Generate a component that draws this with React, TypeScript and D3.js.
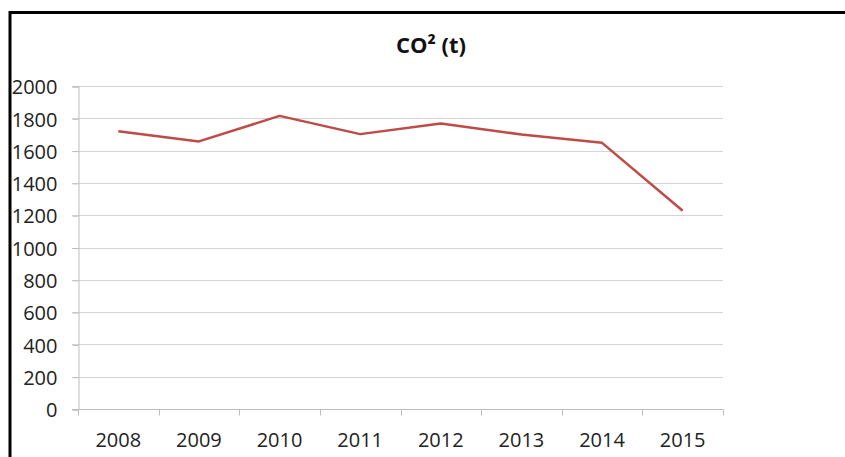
import React, { useEffect, useRef } from 'react';
import * as d3 from 'd3';

const years = ['2008', '2009', '2010', '2011', '2012', '2013', '2014', '2015'];
const co2 = [1720, 1657, 1815, 1702, 1768, 1700, 1648, 1228];
const yTicks = [0, 200, 400, 600, 800, 1000, 1200, 1400, 1600, 1800, 2000];

const W = 845;
const H = 457;

const App = () => {
  const chartRef = useRef<SVGSVGElement>(null);

  useEffect(() => {
    const svg = d3.select(chartRef.current);
    svg.selectAll('*').remove();

    const font = "'Open Sans', 'Noto Sans', sans-serif";
    const left = 78;
    const right = 723;
    const top = 86;
    const bottom = 409;

    // frame (top and left edges only, the rest is cropped)
    svg.append('line')
      .attr('x1', 9).attr('x2', W).attr('y1', 12.5).attr('y2', 12.5)
      .attr('stroke', '#000').attr('stroke-width', 3);
    svg.append('line')
      .attr('x1', 10).attr('x2', 10).attr('y1', 11).attr('y2', H)
      .attr('stroke', '#000').attr('stroke-width', 3);

    svg.append('text')
      .attr('x', 431).attr('y', 53)
      .attr('text-anchor', 'middle')
      .attr('font-family', font)
      .attr('font-weight', 'bold')
      .attr('font-size', 22)
      .attr('fill', '#111')
      .text('CO² (t)');

    const x = d3.scaleBand().domain(years).range([left, right]);
    const y = d3.scaleLinear().domain([0, 2000]).range([bottom, top]);

    // gridlines
    svg.append('g')
      .selectAll('line')
      .data(yTicks.filter(d => d > 0))
      .enter().append('line')
      .attr('x1', left - 6).attr('x2', right)
      .attr('y1', d => Math.round(y(d)) + 0.5)
      .attr('y2', d => Math.round(y(d)) + 0.5)
      .attr('stroke', '#d4d4d4').attr('stroke-width', 1);

    // y axis
    const yAxis = svg.append('g')
      .attr('transform', `translate(${left + 0.5},0.5)`)
      .call(d3.axisLeft(y).tickValues(yTicks).tickFormat(d3.format('d')).tickSize(6).tickPadding(15));
    yAxis.selectAll('.domain').attr('stroke', '#bdbdbd');
    yAxis.selectAll('.tick line').attr('stroke', '#bdbdbd');
    yAxis.selectAll('.tick text')
      .attr('font-family', font).attr('font-size', 20).attr('fill', '#222')
      .attr('dy', '0.36em');

    // x axis
    const xg = svg.append('g').attr('transform', `translate(0,${Math.round(bottom) + 0.5})`);
    xg.append('line')
      .attr('x1', left - 6).attr('x2', right)
      .attr('stroke', '#bdbdbd');
    const bounds = years.map(d => x(d) as number).concat([right]);
    xg.selectAll('.xt')
      .data(bounds)
      .enter().append('line')
      .attr('class', 'xt')
      .attr('x1', d => Math.round(d) + 0.5).attr('x2', d => Math.round(d) + 0.5)
      .attr('y1', 0).attr('y2', 6)
      .attr('stroke', '#bdbdbd');
    xg.selectAll('text')
      .data(years)
      .enter().append('text')
      .attr('x', d => (x(d) as number) + x.bandwidth() / 2)
      .attr('y', 37)
      .attr('text-anchor', 'middle')
      .attr('font-family', font).attr('font-size', 20).attr('fill', '#222')
      .text(d => d);

    const line = d3.line<number>()
      .x((_, i) => (x(years[i]) as number) + x.bandwidth() / 2)
      .y(d => y(d));

    svg.append('path')
      .datum(co2)
      .attr('d', line)
      .attr('fill', 'none')
      .attr('stroke', '#be4b48')
      .attr('stroke-width', 2.5)
      .attr('stroke-linejoin', 'round');
  }, []);

  return (
    <div style={{ position: 'absolute', left: 0, top: 0, width: W, height: H, background: '#fff' }}>
      <svg ref={chartRef} width={W} height={H} style={{ display: 'block' }}></svg>
    </div>
  );
};

export default App;
